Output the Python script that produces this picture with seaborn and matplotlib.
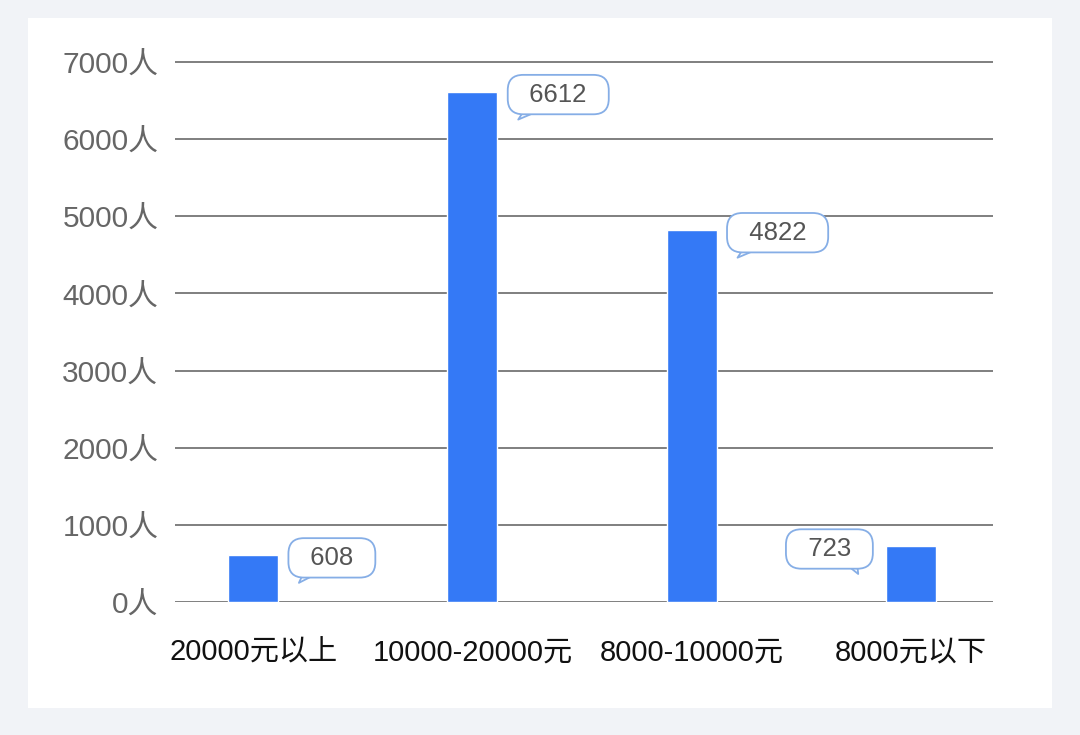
import matplotlib
matplotlib.use("Agg")
import matplotlib.pyplot as plt
import matplotlib.transforms as mtransforms
from matplotlib.patches import Rectangle
import seaborn as sns

# data
categories = ["20000元以上", "10000-20000元", "8000-10000元", "8000元以下"]
counts = [608, 6612, 4822, 723]
bubble_side = ["right", "right", "right", "left"]
y_ticks = [0, 1000, 2000, 3000, 4000, 5000, 6000, 7000]

bar_color = "#3479f6"
bubble_edge = "#86aee6"

sns.set_style("white")
plt.rcParams["font.family"] = ["Liberation Sans", "Noto Sans CJK SC", "DejaVu Sans"]

fig = plt.figure(figsize=(10.8, 7.35), dpi=100)
fig.patch.set_facecolor("#f1f3f7")
# white card behind the chart
fig.patches.append(Rectangle((28 / 1080, 27 / 735), 1024 / 1080, 690 / 735,
                             transform=fig.transFigure, facecolor="white",
                             edgecolor="none", zorder=-5))

ax = fig.add_axes([175 / 1080, 133 / 735, 818 / 1080, 544 / 735])
ax.set_facecolor("none")

bar_w = 0.228
sns.barplot(x=categories, y=counts, color=bar_color, width=bar_w,
            saturation=1, ax=ax, zorder=3)

ax.set_xlim(-0.356, 3.374)
ax.set_ylim(0, 7050)
ax.set_yticks(y_ticks)
ax.set_yticklabels([f"{t}人" for t in y_ticks])
ax.grid(axis="y", color="#6a6a6a", linewidth=1.2, zorder=1)
ax.grid(axis="x", visible=False)
for side in ["top", "right", "left", "bottom"]:
    ax.spines[side].set_visible(False)

ax.tick_params(axis="y", length=0, pad=12, labelsize=21.5, labelcolor="#666666")
ax.tick_params(axis="x", length=0, pad=26, labelsize=21, labelcolor="#111111")
ax.set_xlabel("")
ax.set_ylabel("")

# speech-bubble value labels
for i, (v, side) in enumerate(zip(counts, bubble_side)):
    if side == "right":
        edge_x = i + bar_w / 2
        txt_off, tip_off, ha, rel = 13, 15, "left", (0.22, 0.02)
    else:
        edge_x = i - bar_w / 2
        txt_off, tip_off, ha, rel = -15, -20, "right", (0.8, 0.02)
    tip = mtransforms.offset_copy(ax.transData, fig=fig, x=tip_off, y=-20, units="points")
    ax.annotate(f"  {v}  ", xy=(edge_x, v), xycoords=tip,
                xytext=(txt_off - tip_off, 18), textcoords="offset points",
                ha=ha, va="center", fontsize=18.5, color="#555555", zorder=5,
                bbox=dict(boxstyle="round,pad=0.3,rounding_size=0.6",
                          fc="white", ec=bubble_edge, lw=1.3),
                arrowprops=dict(arrowstyle="wedge,tail_width=0.5,shrink_factor=0.5",
                                fc="white", ec=bubble_edge, lw=1.3,
                                relpos=rel, patchA=None, shrinkA=0, shrinkB=0))

fig.savefig("out.png", dpi=100, facecolor=fig.get_facecolor())
